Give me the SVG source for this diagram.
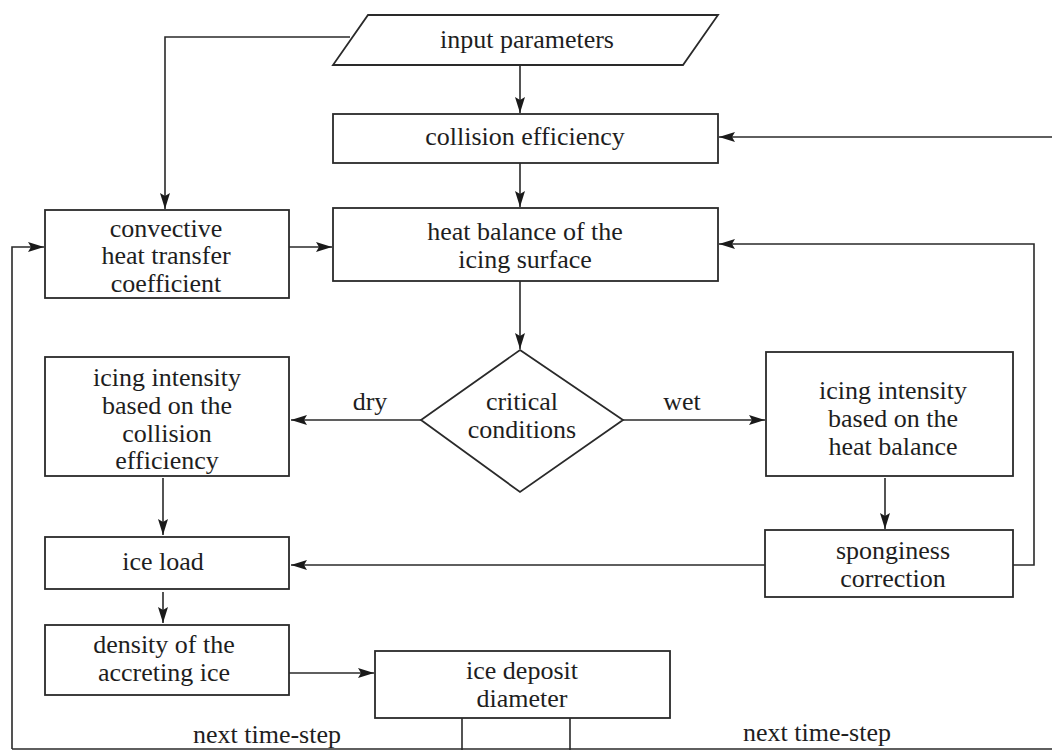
<svg xmlns="http://www.w3.org/2000/svg" width="1052" height="750" viewBox="0 0 1052 750">
<defs>
<marker id="ah" viewBox="0 0 16 10" refX="16" refY="5" markerWidth="16" markerHeight="10" markerUnits="userSpaceOnUse" orient="auto">
<path d="M0,0 L16,5 L0,10 L3,5 Z" fill="#1a1a1a"/>
</marker>
</defs>
<style>
.box{fill:#fff;stroke:#2a2a2a;stroke-width:1.8}
.ln{fill:none;stroke:#2a2a2a;stroke-width:1.6}
.ar{fill:none;stroke:#2a2a2a;stroke-width:1.6;marker-end:url(#ah)}
text{font-family:"Liberation Serif","DejaVu Serif",serif;font-size:26px;fill:#1e1e1e;text-anchor:middle}
</style>
<rect width="1052" height="750" fill="#fff"/>
<g id="connectors">
<polyline class="ar" points="350,37 165,37 165,209"/>
<line class="ar" x1="520" y1="66" x2="520" y2="113"/>
<line class="ar" x1="1052" y1="137" x2="719" y2="137"/>
<line class="ar" x1="520" y1="163" x2="520" y2="207"/>
<line class="ar" x1="289" y1="247" x2="332" y2="247"/>
<polyline class="ar" points="12,749 12,247 44,247"/>
<polyline class="ar" points="1013,565 1034,565 1034,244 719,244"/>
<line class="ar" x1="520" y1="281" x2="520" y2="349"/>
<line class="ar" x1="421" y1="420" x2="291" y2="420"/>
<line class="ar" x1="623" y1="420" x2="765" y2="420"/>
<line class="ar" x1="163" y1="478" x2="163" y2="535"/>
<line class="ar" x1="885" y1="478" x2="885" y2="529"/>
<line class="ar" x1="765" y1="565" x2="291" y2="565"/>
<line class="ar" x1="163" y1="592" x2="163" y2="623"/>
<line class="ar" x1="289" y1="673" x2="374" y2="673"/>
<line class="ln" x1="462" y1="718" x2="462" y2="750"/>
<line class="ln" x1="570" y1="718" x2="570" y2="750"/>
<line class="ln" x1="12" y1="749" x2="1052" y2="749" stroke="#888"/>
<text x="267" y="743">next time-step</text>
<text x="817" y="741">next time-step</text>
<text x="370" y="410">dry</text>
<text x="682" y="410">wet</text>
</g>
<g id="input"><polygon class="box" points="368,15 718,15 683,65 333,65"/><text x="527" y="48">input parameters</text></g>
<g id="collision"><rect class="box" x="333" y="114" width="385" height="49"/><text x="525" y="145">collision efficiency</text></g>
<g id="heat"><rect class="box" x="333" y="208" width="385" height="73"/><text x="525" y="240">heat balance of the</text><text x="525" y="268">icing surface</text></g>
<g id="convective"><rect class="box" x="45" y="210" width="244" height="88"/><text x="166" y="237">convective</text><text x="166" y="264">heat transfer</text><text x="166" y="292">coefficient</text></g>
<g id="critical"><polygon class="box" points="520,350 623,420 520,492 421,420"/><text x="522" y="410">critical</text><text x="522" y="438">conditions</text></g>
<g id="icing-dry"><rect class="box" x="45" y="357" width="244" height="119"/><text x="167" y="386">icing intensity</text><text x="167" y="414">based on the</text><text x="167" y="442">collision</text><text x="167" y="469">efficiency</text></g>
<g id="icing-wet"><rect class="box" x="766" y="352" width="247" height="124"/><text x="893" y="399">icing intensity</text><text x="893" y="427">based on the</text><text x="893" y="455">heat balance</text></g>
<g id="iceload"><rect class="box" x="45" y="537" width="244" height="52"/><text x="163" y="570">ice load</text></g>
<g id="sponginess"><rect class="box" x="765" y="530" width="248" height="67"/><text x="893" y="559">sponginess</text><text x="893" y="587">correction</text></g>
<g id="density"><rect class="box" x="45" y="625" width="244" height="70"/><text x="164" y="653">density of the</text><text x="164" y="681">accreting ice</text></g>
<g id="deposit"><rect class="box" x="375" y="651" width="295" height="67"/><text x="522" y="679">ice deposit</text><text x="522" y="707">diameter</text></g>
</svg>
